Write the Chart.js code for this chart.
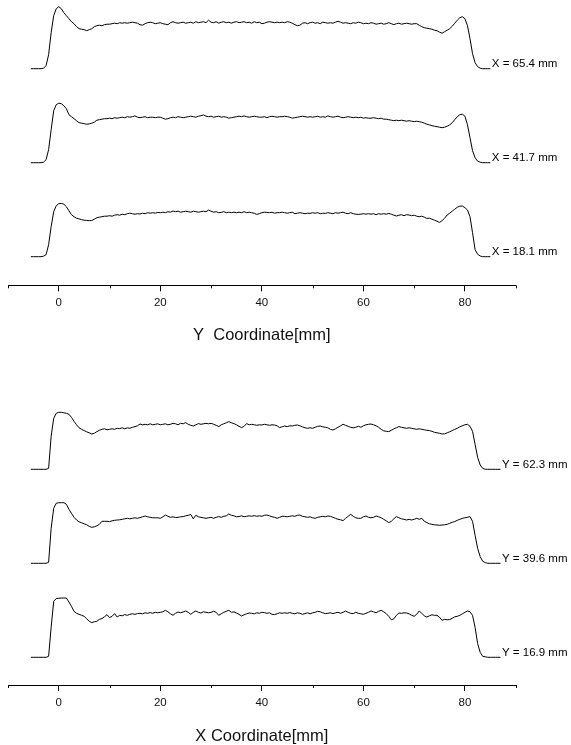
<!DOCTYPE html>
<html lang="en">
<head>
  <meta charset="UTF-8">
  <title>Line profiles</title>
  <script src="https://cdn.jsdelivr.net/npm/chart.js"></script>
  <style>
    html, body { margin: 0; padding: 0; background: #fff; }
    .wrap { position: relative; width: 571px; height: 745px; }
    canvas { position: absolute; left: 0; }
  </style>
</head>
<body>
  <div class="wrap">
    <canvas id="topChart" width="571" height="372" style="top:0"></canvas>
    <canvas id="bottomChart" width="571" height="373" style="top:372px"></canvas>
  </div>

  <script>
    // sampling grid of the profiles (mm)
    const STEP = 0.5;
    const TOP_START = -5.5, TOP_COUNT = 182;   // -5.5 .. 85
    const BOT_START = -5.5, BOT_COUNT = 186;   // -5.5 .. 87

    // curve labels
    const topLabels = ['X = 65.4 mm', 'X = 41.7 mm', 'X = 18.1 mm'];
    const bottomLabels = ['Y = 62.3 mm', 'Y = 39.6 mm', 'Y = 16.9 mm'];

    // axis
    const AXIS_MIN = -10, AXIS_MAX = 90, TICK_STEP = 10, LABEL_EVERY = 20;
    const topTitle = 'Y  Coordinate[mm]';
    const bottomTitle = 'X Coordinate[mm]';

    // profile heights above each curve's own baseline (a.u.), 10 samples per row = 5 mm
    const profX654 = [
      0,0,0,0,0,0.5,3,14,36,53,
      60,62,60,56,53,50,47,45,42,40,
      39.5,39,38,39,40,42,43,43.5,43,44,
      44.5,44.5,45,45.5,45,46,45.5,46,45.5,46,
      46.5,46,45.5,44,43.5,45,46,46.5,46,45,
      45.5,46,45,44.5,44,46,47,46,45.5,46,
      46.5,45.5,46,46.5,45.5,47,46,46.5,47,46,
      48.5,46.5,46,47,45.5,46.5,47,46,46.5,45.5,
      46.5,47,46,46.5,47,46,46.5,45.5,47,46,
      46.5,45,45.5,46.5,47,46.5,46,46.5,46,46.5,
      46,47,46.5,45.5,44,43,43.5,45.5,46,45,
      46,46.5,45.5,46,45,46.5,46,45.5,46,45.5,
      46.5,47.5,46.5,45.5,46,45.5,45,46,45.5,46.5,
      46,45,45.5,45,46,45.5,44.5,45,45.5,44.5,
      45,46,45,44,45,45.5,44.5,45,45.5,45,
      44.5,45,45,43.5,42,41,40.5,40,39.5,38.5,
      38,36.5,35.5,37,38.5,40,42.5,45.5,48.5,51,
      52,50,43,30,15,6,2,0.5,0,0,
      0,0
    ];
    const profX417 = [
      0,0,0,0,0,0.5,3,13,33,52,
      58,59.5,59,57,54,48,46,44,42,40,
      39.5,39,38.5,38.8,39.5,40.5,42.5,43,43.5,44,
      44,44.5,44,45,44.5,45,45.5,45,46,45.5,
      46,46.8,45.5,45,45.5,46,45,45.5,45.5,45,
      45.5,45.5,44.5,43.5,44,45,45.5,45,46,45.5,
      45,45.5,46,46.5,46,45.5,46.5,47,47.8,46.5,
      46,46.5,45.5,46,46.5,45.5,46,45.5,44.5,45,
      45.5,46,46.5,46,46.8,46,45.5,46,46.5,46,
      45.5,45.5,46,45,46,46.5,46,45.5,46,46,
      46.5,46,45.5,44.5,45,45.5,46,46.5,46,45.5,
      46,45.5,46,46.5,45.5,46,45.5,46.8,46,45.5,
      46,46.5,45.5,45,45.5,46,45.5,45,45.5,45,
      45.5,44.5,45,44.5,44.5,45,44.5,44,44.5,43.5,
      43.5,43,42.5,42,42.5,42,42.5,42,41.5,42,
      41.5,41,41.5,41,40.5,39.5,38.5,37.8,37,36.5,
      36,35.5,35,35.5,36.5,37.8,40,43,46,48,
      48.5,46.5,38,25,12,5,1.5,0.5,0,0,
      0,0
    ];
    const profX181 = [
      0,0,0,0,0,0.5,2,12,30,45,
      51,53,53.3,52.5,50,46,42,40,38.5,37.8,
      37,36.5,36.3,36,36.2,37.5,39,39.5,40,40.5,
      40.5,41,40.5,41.5,42,41.5,42.5,42,43,43.5,
      43,42.5,43,42.7,43.5,43,44,43.5,44,43.5,
      44.3,44,44.5,44,45,44.5,45.7,45,45.5,44.5,
      45,45.5,45,44.5,45.5,45,44.5,45,45.5,45,
      46.7,45.5,44.5,45,44,44.3,45,44,44.5,44,
      44.5,44,44.5,44,45,44,44.5,44,43.5,42.3,
      43,44,44.5,44.3,44,44.5,43.5,44,44,44.5,
      44,43.5,44,44.5,43,43.5,44,43.5,43,43.5,
      43.3,44,43.5,44,43,43.5,43.3,44,43.5,43,
      44,43.5,44,44.5,43.5,43,44,43,42.5,42.3,
      42.5,43,42.5,43,42.5,43,42,43,42.5,43,
      42.5,43.3,42.5,41.5,40.7,41.5,42,41,42,41.7,
      41,41.5,40.5,40,40.5,39.5,38.3,38.5,37.5,36.5,
      35.5,34.3,36,38.5,41.7,43.5,45.5,47.5,49.5,50.5,
      50.7,49,46.7,40,24,7,2.5,0.7,0,0,
      0,0
    ];

    const profY623 = [
      0,0,0,0,0,0,0,1,33,51,
      56,57,57,56.5,56,55,52,48,44.5,41.5,
      40,38.7,37.5,36.5,35.3,36,37.7,39,40,40.5,
      39.5,40,40.5,40,41,40.7,41.5,40.5,41.5,41,
      42,42.7,43.5,45.3,44.5,45,44.5,45.5,44.5,45,
      45.5,44.5,45,45.5,44.5,45,46,45.5,44.5,46,
      45.5,46.7,45,44,43.3,44.5,45.7,45,45.5,46,
      45.5,46,45,44,42.7,44.5,45.5,46.5,47.7,46.5,
      45.7,44.5,43,41.7,43,45.7,44.5,45,44.5,44,
      44.5,44.3,45,44.5,44,44.5,44.3,43.5,41.7,42.5,
      43.3,42.7,43.5,43.3,44,44.3,43.5,42.5,41.5,41,
      41.5,41,42,43,43.3,42.5,42,41.5,40,39.3,
      40.5,42,43.5,45,44,43,42,41.5,42,43,
      42,43.5,44.5,45,45.3,44.5,43.5,42,40,38.5,
      38,37.7,39,40.5,41.5,42.7,42,41.5,41,41.5,
      41,40.5,40,40.5,40,39.5,39,38.7,38,37,
      36.5,36,35.3,35.5,36.5,37.5,38.7,40,41,42.5,
      43.5,44.5,45,43,38,25,12,4.3,1,0,
      0,0,0,0,0,0
    ];
    const profY396 = [
      0,0,0,0,0,0,0,1,35,55,
      60,60.6,60.6,60.6,59,54,50,46,43.3,41.5,
      40.5,39.5,38.5,37,36,36.5,37.5,39,42,42,
      42,41.7,42.5,43,43.3,43.5,44,44.5,45,44.5,
      45,45.5,45,45.7,46.5,47.3,46.5,46,45.5,45.5,
      45.5,45,46.5,48.3,47,46,46.5,45.7,46,46.5,
      46.7,47.5,48,48.8,44.5,48,46.5,46,45.5,45,
      45.5,46,45,46,46.7,46,47,47.5,49.3,48,
      47.5,46.5,46.7,47.5,46.5,47,47.5,47,47.7,47,
      47.5,47,48,48.3,47.5,46.5,46,45,46,47,
      47,46.5,47,47.5,47,48,48.3,47,46.5,46,
      46.5,45.5,45,46,46.5,47,46.5,47.3,47,46,
      45,44,43.5,42.7,45,47,49,47,45.5,45,
      45,46.5,47.3,46,45.5,46,47.3,46.5,45.5,44,
      42.5,40.7,42,44.5,46.7,45.5,44.5,44,43.3,44,
      43.3,44,45,44,45,42,40.7,39.5,39,38.5,
      38.3,38,38.3,38.5,39,40,41,41.7,43,44,
      45,45.5,46,46.7,42,28,15,6.7,2,0.7,
      0,0,0,0,0,0
    ];
    const profY169 = [
      0,0,0,0,0,0,0,1,30,56,
      58.7,59,59.3,59.3,59.3,55.3,51,46,44,43,
      42,41,38.5,36,34.7,35.5,36,38,38.7,40.5,
      42.7,39.7,41,43.7,40.3,42,41.5,42.7,42,43,
      43.5,43,43.7,44,43.5,44.5,44,44.7,44,45,
      44.5,45,45.5,47,45.5,43.5,42,44,45.3,44.5,
      45.3,46.3,45,43,45,46.3,45,44.3,45.5,45,
      44.5,45,46,45,42,43.5,45,46,47,45,
      45.5,44.3,43,41.3,42.5,43.5,44.3,44,43.5,44.5,
      44,45,44.7,44,44.5,43,42.7,43.5,44.5,44,
      44.5,44,44.7,44,43.5,44.5,44,43,43.7,44.5,
      43.5,44.5,45,46,45.5,44.5,43.7,44,44.5,43.7,
      44.5,45,44,45,46.3,45,44,43.7,45,44,
      43.5,43,44,45,46.3,45.5,44.5,46,47,45.5,
      43.7,41,37.5,38.5,42,44.3,44,44.5,44.3,43.5,
      42,41,43,46.3,44,41.5,40.3,41.5,42.5,42,
      42,40,37,38,37.5,37.7,39,40.5,41,42,
      43.5,45,46.3,45.5,42,30,13.7,5,1,0.5,
      0,0,0,0,0,0
    ];

    const FONT = '"Liberation Sans", Arial, Helvetica, sans-serif';

    function sampleGrid(start, count) {
      const xs = [];
      for (let i = 0; i < count; i++) xs.push(start + i * STEP);
      return xs;
    }

    // short ticks at the odd tens (major ticks are drawn by Chart.js)
    const minorTicks = {
      id: 'minorTicks',
      afterDraw(chart) {
        const sc = chart.scales.x;
        const ctx = chart.ctx;
        ctx.save();
        ctx.strokeStyle = '#000';
        ctx.lineWidth = 1;
        sc.ticks.forEach(t => {
          if (t.value % LABEL_EVERY === 0) return;
          const px = Math.round(sc.getPixelForValue(t.value)) + 0.5;
          ctx.beginPath();
          ctx.moveTo(px, sc.top);
          ctx.lineTo(px, sc.top + 3);
          ctx.stroke();
        });
        ctx.restore();
      }
    };

    // text label at the right end of every profile
    const endLabels = {
      id: 'endLabels',
      afterDatasetsDraw(chart) {
        const ctx = chart.ctx;
        ctx.save();
        ctx.font = '11.5px ' + FONT;
        ctx.fillStyle = '#000';
        ctx.textBaseline = 'middle';
        chart.data.datasets.forEach((ds, i) => {
          const pts = chart.getDatasetMeta(i).data;
          const p = pts[pts.length - 1];
          ctx.fillText(ds.label, p.x + 1.5, p.y - 4.5);
        });
        ctx.restore();
      }
    };

    function makeChart(id, xs, profiles, labels, gap, yMin, yMax, axisHeight, title, titlePadBottom) {
      const datasets = profiles.map((prof, i) => {
        const offset = (profiles.length - 1 - i) * gap;
        if (prof.length !== xs.length) console.error(labels[i], prof.length, xs.length);
        return {
          label: labels[i],
          data: prof.map((v, k) => ({ x: xs[k], y: v + offset })),
          borderColor: '#000',
          borderWidth: 1,
          pointRadius: 0,
          tension: 0,
          fill: false
        };
      });

      return new Chart(document.getElementById(id).getContext('2d'), {
        type: 'line',
        data: { datasets },
        options: {
          responsive: false,
          animation: false,
          devicePixelRatio: 1,
          layout: { padding: { left: 8, right: 55.3, top: 0, bottom: 0 } },
          plugins: { legend: { display: false }, tooltip: { enabled: false } },
          scales: {
            x: {
              type: 'linear',
              min: AXIS_MIN,
              max: AXIS_MAX,
              afterFit(scale) { scale.height = axisHeight; },
              border: { display: true, color: '#000', width: 1 },
              grid: {
                drawOnChartArea: false,
                drawTicks: true,
                tickLength: 6,
                color: c => (c.tick && c.tick.value % LABEL_EVERY === 0) ? '#000' : 'rgba(0,0,0,0)'
              },
              ticks: {
                stepSize: TICK_STEP,
                autoSkip: false,
                maxRotation: 0,
                padding: 5,
                color: '#111',
                font: { family: FONT, size: 11.5 },
                callback: v => (v % LABEL_EVERY === 0 ? String(v) : '')
              },
              title: {
                display: true,
                text: title,
                color: '#111',
                font: { family: FONT, size: 16.5, lineHeight: 1 },
                padding: { top: 0, bottom: titlePadBottom }
              }
            },
            y: { type: 'linear', display: false, min: yMin, max: yMax }
          }
        },
        plugins: [minorTicks, endLabels]
      });
    }

    makeChart('topChart', sampleGrid(TOP_START, TOP_COUNT),
      [profX654, profX417, profX181], topLabels,
      94, -28.6, 256.7, 86.7, topTitle, 28.75);

    makeChart('bottomChart', sampleGrid(BOT_START, BOT_COUNT),
      [profY623, profY396, profY169], bottomLabels,
      94, -27.7, 285.3, 60, bottomTitle, 0);
  </script>
</body>
</html>
